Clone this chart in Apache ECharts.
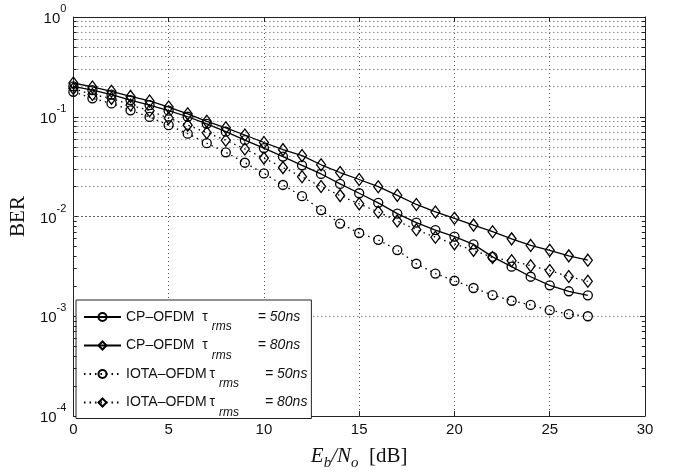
<!DOCTYPE html>
<html><head><meta charset="utf-8">
<script src="https://cdn.jsdelivr.net/npm/echarts@6/dist/echarts.min.js"></script>
<style>html,body{margin:0;padding:0;background:#fff}#c{width:673px;height:476px}</style>
</head><body><div id="c"></div>
<script>
// Eb/No in dB
const ebno = [0,1,2,3,4,5,6,7,8,9,10,11,12,13,14,15,16,17,18,19,20,21,22,23,24,25,26,27];
// CP-OFDM, tau_rms = 50ns (solid, circles)
const cp50 = [0.202,0.185,0.167,0.147,0.131,0.115,0.100,0.0849,0.0708,0.0582,0.0485,0.0399,0.0326,0.0267,0.0212,0.0171,0.0137,0.0107,0.00869,0.00731,0.00629,0.00525,0.00394,0.00314,0.00249,0.00204,0.00178,0.00162];
// CP-OFDM, tau_rms = 80ns (solid, diamonds)
const cp80 = [0.218,0.199,0.180,0.160,0.144,0.125,0.107,0.090,0.0775,0.0656,0.0552,0.0468,0.0408,0.0330,0.0276,0.0235,0.0199,0.0163,0.0132,0.0111,0.0096,0.0082,0.00704,0.00597,0.00513,0.00458,0.00403,0.00365];
// IOTA-OFDM, tau_rms = 50ns (dotted, circles)
const iota50 = [0.178,0.153,0.136,0.116,0.0995,0.0824,0.0677,0.0543,0.0440,0.0346,0.0270,0.0207,0.0160,0.0116,0.0085,0.00683,0.00583,0.00461,0.00336,0.00268,0.00227,0.00192,0.00163,0.00143,0.00130,0.00115,0.00105,0.00100];
// IOTA-OFDM, tau_rms = 80ns (dotted, diamonds)
const iota80 = [0.192,0.167,0.153,0.131,0.115,0.097,0.0824,0.0692,0.0582,0.0475,0.0385,0.0309,0.0250,0.0200,0.0162,0.0134,0.0111,0.00903,0.00737,0.00619,0.00532,0.00458,0.00388,0.00360,0.00321,0.00287,0.00250,0.00224];

const seriesNames = ['CP50','CP80','IOTA50','IOTA80'];
const legendLabels = {
  CP50: ['CP\u2013OFDM  \u03c4','rms','= 50ns'],
  CP80: ['CP\u2013OFDM  \u03c4','rms','= 80ns'],
  IOTA50: ['IOTA\u2013OFDM\u2009\u03c4','rms','= 50ns'],
  IOTA80: ['IOTA\u2013OFDM\u2009\u03c4','rms','= 80ns']
};
const xMin = 0, xMax = 30, xStep = 5;
const yMin = 1e-4, yMax = 1;

// minor log gridline positions (2..9 x each decade)
const yMinor = [];
for (let e = -4; e < 0; e++) for (let m = 2; m <= 9; m++) yMinor.push(m * Math.pow(10, e));

const pair = arr => ebno.map((x, i) => [x, arr[i]]);
const dotted = {color:'#555', width:1, type:[1,3]};
const SANS = 'Liberation Sans, Arial, Helvetica, sans-serif';
const SERIF = 'Liberation Serif, Times New Roman, serif';

const chart = echarts.init(document.getElementById('c'), null, {renderer:'canvas'});

function mkSeries(name, data, symbol, size, solid) {
  return {
    name, type:'line', data: pair(data), symbol, symbolSize: size, showSymbol:true,
    lineStyle: solid ? {color:'#000', width:1.3, type:'solid'} : {color:'#000', width:1.3, type:[1.5,4]},
    itemStyle: {color:'rgba(255,255,255,0)', borderColor:'#000', borderWidth:1.3},
    emphasis:{disabled:true}, z:5, clip:false
  };
}

const minorTickLines = [];
yMinor.forEach(v => {
  minorTickLines.push([{coord:[xMin, v]},{coord:[xMin+0.17, v]}]);
  minorTickLines.push([{coord:[xMax-0.17, v]},{coord:[xMax, v]}]);
});

const option = {
  backgroundColor:'#fff',
  animation:false,
  grid:{left:68, right:28, top:17, bottom:52, containLabel:false},
  xAxis:[{
    type:'value', min:xMin, max:xMax, interval:xStep, position:'bottom',
    axisLine:{show:true, onZero:false, lineStyle:{color:'#222', width:1}},
    axisTick:{show:true, inside:true, length:5, lineStyle:{color:'#222'}},
    axisLabel:{color:'#111', fontSize:15, fontFamily:SANS, margin:6},
    splitLine:{show:true, lineStyle:dotted},
    name:'{i|E}{sb|b}{i|/N}{sb|o}{r|  [dB]}', nameLocation:'middle', nameGap:25,
    nameTextStyle:{rich:{
      i:{fontFamily:SERIF, fontStyle:'italic', fontSize:21, color:'#111', lineHeight:30, verticalAlign:'middle'},
      sb:{fontFamily:SERIF, fontStyle:'italic', fontSize:15, color:'#111', lineHeight:30, verticalAlign:'bottom'},
      r:{fontFamily:SERIF, fontSize:21, color:'#111', lineHeight:30, verticalAlign:'middle'}
    }}
  },{
    type:'value', min:xMin, max:xMax, interval:xStep, position:'top',
    axisLine:{show:true, onZero:false, lineStyle:{color:'#222', width:1}},
    axisTick:{show:true, inside:true, length:5, lineStyle:{color:'#222'}},
    axisLabel:{show:false}, splitLine:{show:false}
  }],
  yAxis:[{
    type:'log', logBase:10, min:yMin, max:yMax, interval:1, position:'left',
    axisLine:{show:true, onZero:false, lineStyle:{color:'#222', width:1}},
    axisTick:{show:true, inside:true, length:5, lineStyle:{color:'#222'}},
    splitLine:{show:true, lineStyle:dotted},
    axisLabel:{margin:7, padding:[0,0,4,0], formatter: v => {
        const e = Math.round(Math.log10(v));
        return '{b|10}{p|' + e + '}';
      },
      rich:{
        b:{fontFamily:SANS, fontSize:15, color:'#111', lineHeight:23, verticalAlign:'bottom'},
        p:{fontFamily:SANS, fontSize:11, color:'#111', lineHeight:23, verticalAlign:'top'}
      }
    },
    name:'BER', nameLocation:'middle', nameGap:42, nameRotate:90,
    nameTextStyle:{fontFamily:SERIF, fontSize:21, color:'#111'}
  },{
    type:'log', logBase:10, min:yMin, max:yMax, interval:1, position:'right',
    axisLine:{show:true, onZero:false, lineStyle:{color:'#222', width:1}},
    axisTick:{show:true, inside:true, length:5, lineStyle:{color:'#222'}},
    axisLabel:{show:false}, splitLine:{show:false}
  }],
  legend:{
    show:true, orient:'vertical', left:76, top:300,
    data: seriesNames,
    backgroundColor:'#fff', borderColor:'#222', borderWidth:1, borderRadius:0,
    padding:[10,4,0,7], itemGap:5.5, itemWidth:37, itemHeight:10,
    selectedMode:false,
    formatter: name => {
      const L = legendLabels[name];
      return '{m|' + L[0] + '}{s|' + L[1] + '}{e|' + L[2] + '}';
    },
    textStyle:{padding:[0,0,0,0], rich:{
      m:{fontFamily:SANS, fontSize:14, color:'#111', lineHeight:32, verticalAlign:'middle'},
      s:{fontFamily:SANS, fontStyle:'italic', fontSize:12, color:'#111', lineHeight:32, verticalAlign:'bottom', width:46, padding:[0,0,0,4]},
      e:{fontFamily:SANS, fontStyle:'italic', fontSize:14, color:'#111', lineHeight:32, verticalAlign:'middle'}
    }}
  },
  series:[
    mkSeries('CP50', cp50, 'circle', 9, true),
    mkSeries('CP80', cp80, 'diamond', [9,12], true),
    mkSeries('IOTA50', iota50, 'circle', 9, false),
    mkSeries('IOTA80', iota80, 'diamond', [9,12], false),
    {
      name:'grid-minor', type:'line', data:[], silent:true, z:1,
      markLine:{silent:true, symbol:['none','none'], label:{show:false}, animation:false,
        lineStyle:dotted,
        data: yMinor.map(v => ({yAxis:v, lineStyle:dotted}))
      }
    },
    {
      name:'tick-minor', type:'line', data:[], silent:true, z:3,
      markLine:{silent:true, symbol:['none','none'], label:{show:false}, animation:false,
        lineStyle:{color:'#222', width:1, type:'solid'},
        data: minorTickLines
      }
    }
  ]
};
chart.setOption(option);
</script>
</body></html>
